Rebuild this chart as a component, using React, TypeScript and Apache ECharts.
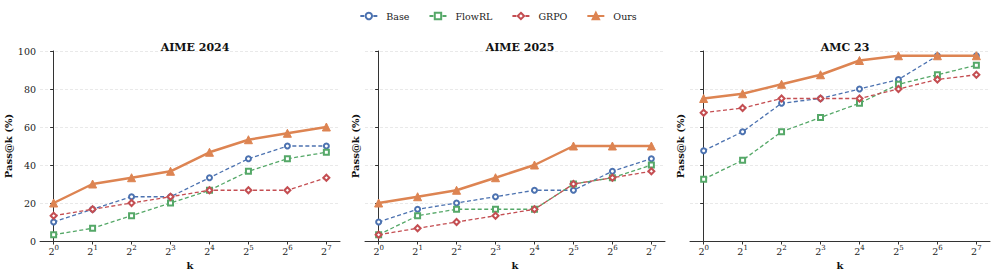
import React, { useEffect, useRef } from "react";
import * as echarts from "echarts";

const exponents = [0, 1, 2, 3, 4, 5, 6, 7];
const panelTitles = ["AIME 2024", "AIME 2025", "AMC 23"];
const methodNames = ["Base", "FlowRL", "GRPO", "Ours"];

const aime24Base = [10, 16.7, 23.3, 23.3, 33.3, 43.3, 50, 50];
const aime24FlowRL = [3.3, 6.7, 13.3, 20, 26.7, 36.7, 43.3, 46.7];
const aime24GRPO = [13.3, 16.7, 20, 23.3, 26.7, 26.7, 26.7, 33.3];
const aime24Ours = [20, 30, 33.3, 36.7, 46.7, 53.3, 56.7, 60];

const aime25Base = [10, 16.7, 20, 23.3, 26.7, 26.7, 36.7, 43.3];
const aime25FlowRL = [3.3, 13.3, 16.7, 16.7, 16.7, 30, 33.3, 40];
const aime25GRPO = [3.3, 6.7, 10, 13.3, 16.7, 30, 33.3, 36.7];
const aime25Ours = [20, 23.3, 26.7, 33.3, 40, 50, 50, 50];

const amcBase = [47.5, 57.5, 72.5, 75, 80, 85, 97.5, 97.5];
const amcFlowRL = [32.5, 42.5, 57.5, 65, 72.5, 82.5, 87.5, 92.5];
const amcGRPO = [67.5, 70, 75, 75, 75, 80, 85, 87.5];
const amcOurs = [75, 77.5, 82.5, 87.5, 95, 97.5, 97.5, 97.5];

const yTicks = [0, 20, 40, 60, 80, 100];

const panelData = [
  [aime24Base, aime24FlowRL, aime24GRPO, aime24Ours],
  [aime25Base, aime25FlowRL, aime25GRPO, aime25Ours],
  [amcBase, amcFlowRL, amcGRPO, amcOurs],
];

const COLORS = ["#4C72B0", "#55A868", "#C44E52", "#DD8452"];
const SYMBOLS = ["emptyCircle", "emptyRect", "emptyDiamond", "triangle"];
const SYMBOL_SIZES = [5, 5, 6, 8];
const FONT = "DejaVu Serif";
const AXIS_COLOR = "#333";

export default function App() {
  const ref = useRef<HTMLDivElement>(null);
  useEffect(() => {
    document.body.style.margin = "0";
    const chart = echarts.init(ref.current!, null, { renderer: "svg" });
    const gridLefts = [40, 365, 690];
    const gridW = 300;
    const grids = gridLefts.map((l) => ({
      left: l,
      width: gridW,
      top: 51,
      height: 190,
      containLabel: false,
      outerBoundsMode: "none",
    }));
    const xAxes = gridLefts.map((_, i) => ({
      type: "value",
      gridIndex: i,
      min: -0.35,
      max: 7.35,
      name: "k",
      nameLocation: "middle",
      nameGap: 14,
      nameTextStyle: { fontFamily: FONT, fontWeight: "bold", fontSize: 10, color: "#111" },
      axisLine: { show: true, onZero: false, lineStyle: { color: AXIS_COLOR, width: 1 } },
      axisTick: { show: true, customValues: exponents, length: 3.5, lineStyle: { color: AXIS_COLOR } },
      axisLabel: {
        customValues: exponents,
        margin: 3,
        formatter: (v: number) => `{b|2}{s|${Math.round(v)}}`,
        rich: {
          b: { fontFamily: FONT, fontSize: 9.5, color: "#222", verticalAlign: "bottom" },
          s: { fontFamily: FONT, fontSize: 7, color: "#222", verticalAlign: "bottom", padding: [0, 0, 5, 0] },
        },
      },
      splitLine: { show: false },
    }));
    const yAxes = gridLefts.map((_, i) => ({
      type: "value",
      gridIndex: i,
      min: yTicks[0],
      max: yTicks[yTicks.length - 1],
      interval: 20,
      name: "Pass@k (%)",
      nameLocation: "middle",
      nameGap: i === 0 ? 23 : 5,
      nameTextStyle: { fontFamily: FONT, fontWeight: "bold", fontSize: 10, color: "#111" },
      axisLine: { show: true, lineStyle: { color: AXIS_COLOR, width: 1 } },
      axisTick: { show: true, length: 3.5, lineStyle: { color: AXIS_COLOR } },
      axisLabel: { show: i === 0, fontFamily: FONT, fontSize: 9.5, color: "#222", margin: 4 },
      splitLine: { show: true, lineStyle: { color: "#e3e3e3", type: [3, 2], width: 0.8 } },
    }));
    const series: any[] = [];
    panelData.forEach((arrs, gi) => {
      arrs.forEach((vals, mi) => {
        const ours = mi === 3;
        series.push({
          type: "line",
          name: methodNames[mi],
          xAxisIndex: gi,
          yAxisIndex: gi,
          data: vals.map((v, j) => [exponents[j], v]),
          symbol: SYMBOLS[mi],
          symbolSize: SYMBOL_SIZES[mi],
          showSymbol: true,
          color: COLORS[mi],
          z: ours ? 5 : 3,
          lineStyle: ours
            ? { width: 2.5, color: COLORS[mi] }
            : { width: 1.3, type: [4, 2.5], color: COLORS[mi] },
          itemStyle: { color: COLORS[mi], borderColor: COLORS[mi], borderWidth: 1 },
        });
      });
    });
    chart.setOption({
      animation: false,
      title: panelTitles.map((t, i) => ({
        text: t,
        left: gridLefts[i] + gridW / 2,
        top: 37,
        textAlign: "center",
        textStyle: { fontFamily: FONT, fontWeight: "bold", fontSize: 11, color: "#111" },
      })),
      legend: {
        top: 6,
        left: "center",
        data: methodNames,
        itemWidth: 17,
        itemHeight: 8,
        itemGap: 19,
        textStyle: { fontFamily: FONT, fontSize: 9.5, color: "#222", padding: [0, 0, 0, 4] },
      },
      grid: grids,
      xAxis: xAxes,
      yAxis: yAxes,
      series,
    });
    return () => chart.dispose();
  }, []);
  return <div ref={ref} style={{ width: 996, height: 273 }} />;
}
